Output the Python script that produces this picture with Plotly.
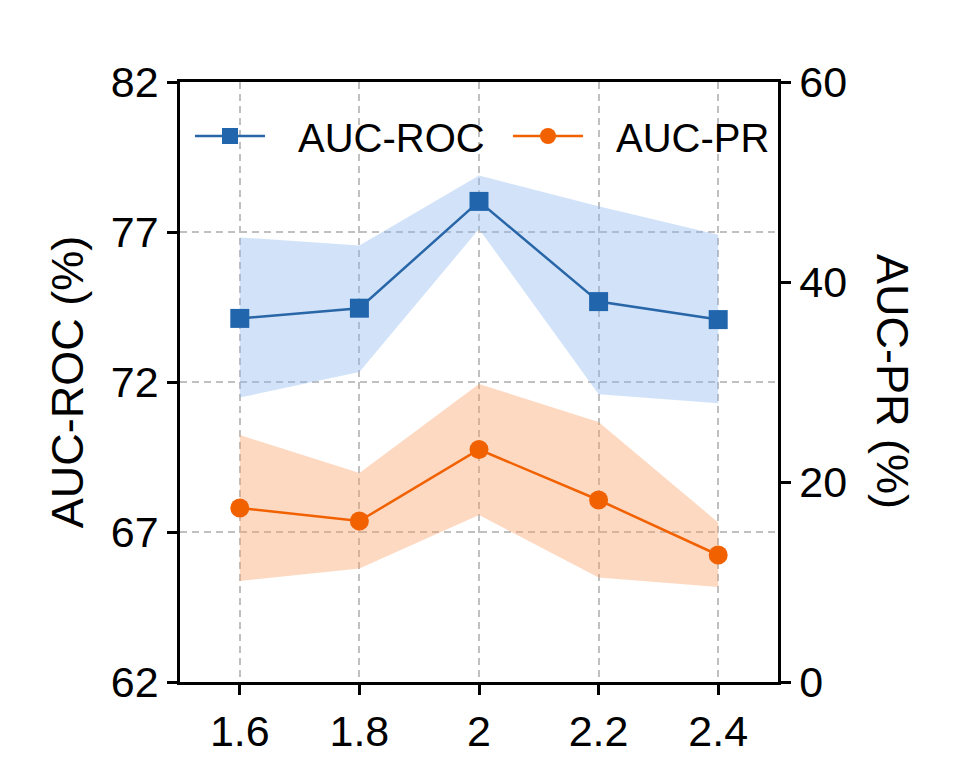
import plotly.graph_objects as go

x_vals = [1.6, 1.8, 2.0, 2.2, 2.4]
x_labels = ["1.6", "1.8", "2", "2.2", "2.4"]

roc_mean = [74.12, 74.46, 78.02, 74.68, 74.08]
roc_upper = [76.82, 76.55, 78.88, 77.86, 76.91]
roc_lower = [71.48, 72.33, 77.10, 71.59, 71.29]

pr_mean = [17.4, 16.1, 23.25, 18.2, 12.7]
pr_upper = [24.7, 20.9, 29.8, 26.0, 15.95]
pr_lower = [10.1, 11.35, 16.7, 10.45, 9.5]

series_names = ["AUC-ROC", "AUC-PR"]

roc_color = "#2866a8"
pr_color = "#f26100"
FONT = "Liberation Sans, Arial, sans-serif"
TICK_FS = 43
TITLE_FS = 45
LEG_FS = 40

# page offset (body margin) compensation
OFF = 8
PL, PT, PW, PH = 180 - OFF, 82 - OFF, 598, 600
W, H = 972, 783


def px_to_paper_x(px):
    return (px - OFF - PL) / PW


def px_to_paper_y(py):
    return (PT + PH - (py - OFF)) / PH


GAP = "\u2002\u2009"

fig = go.Figure()

fig.add_trace(go.Scatter(
    x=x_vals + x_vals[::-1], y=roc_upper + roc_lower[::-1],
    fill="toself", fillcolor="rgba(142,185,240,0.4)", line=dict(width=0),
    mode="lines", showlegend=False, hoverinfo="skip", yaxis="y"))
fig.add_trace(go.Scatter(
    x=x_vals + x_vals[::-1], y=pr_upper + pr_lower[::-1],
    fill="toself", fillcolor="rgba(250,160,103,0.4)", line=dict(width=0),
    mode="lines", showlegend=False, hoverinfo="skip", yaxis="y2"))

fig.add_trace(go.Scatter(
    x=x_vals, y=roc_mean, name=GAP + series_names[0], mode="lines+markers",
    line=dict(color=roc_color, width=2.5),
    marker=dict(symbol="square", size=19, color="#2166ac"), yaxis="y",
    legend="legend"))
fig.add_trace(go.Scatter(
    x=x_vals, y=pr_mean, name=GAP + series_names[1], mode="lines+markers",
    line=dict(color=pr_color, width=2.5),
    marker=dict(symbol="circle", size=19, color=pr_color), yaxis="y2",
    legend="legend2"))

axis_common = dict(showline=True, linecolor="black", linewidth=2.5,
                   ticks="outside", ticklen=10, tickwidth=2.5, tickcolor="black",
                   zeroline=False, automargin=False,
                   tickfont=dict(family=FONT, size=TICK_FS, color="black"))

grid = dict(showgrid=True, gridcolor="#c0c0c0", griddash="7px,5px", gridwidth=2)

leg_common = dict(orientation="h", xanchor="left", yanchor="middle",
                  bgcolor="rgba(0,0,0,0)", itemwidth=70,
                  font=dict(family=FONT, size=LEG_FS, color="black"))

fig.update_layout(
    width=W, height=H,
    margin=dict(l=PL, r=W - PL - PW, t=PT, b=H - PT - PH),
    plot_bgcolor="white", paper_bgcolor="white",
    font=dict(family=FONT, size=TICK_FS, color="black"),
    xaxis=dict(range=[1.5, 2.5], tickvals=x_vals, ticktext=x_labels,
               mirror=True, **grid, **axis_common),
    yaxis=dict(range=[62, 82], tickvals=[62, 67, 72, 77, 82],
               title=dict(text="AUC-ROC (%)", font=dict(family=FONT, size=TITLE_FS), standoff=14),
               **grid, **axis_common),
    yaxis2=dict(range=[0, 60], tickvals=[0, 20, 40, 60], overlaying="y", side="right",
                showgrid=False, **axis_common),
    legend=dict(x=px_to_paper_x(190), y=px_to_paper_y(136), **leg_common),
    legend2=dict(x=px_to_paper_x(508), y=px_to_paper_y(136), **leg_common),
    annotations=[dict(text="AUC-PR (%)", textangle=90,
                      x=px_to_paper_x(893), y=px_to_paper_y(381),
                      xref="paper", yref="paper", xanchor="center", yanchor="middle",
                      showarrow=False,
                      font=dict(family=FONT, size=TITLE_FS, color="black"))],
)

fig.write_html("out.html")
